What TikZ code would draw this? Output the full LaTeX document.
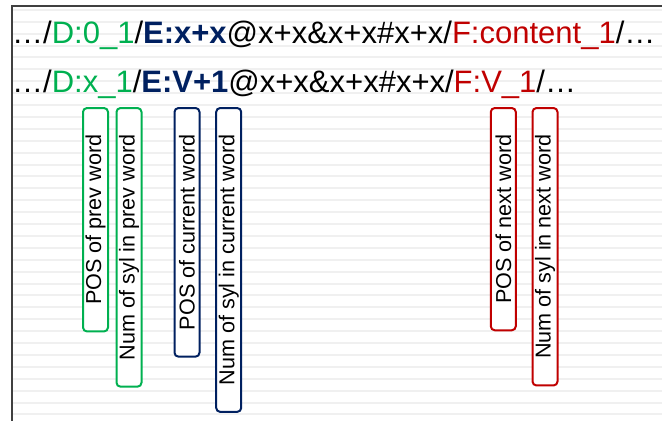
\documentclass[tikz,border=0pt]{standalone}
\usepackage{fontspec}
\setmainfont{Liberation Sans}
\usetikzlibrary{positioning}
\definecolor{prevc}{HTML}{00B050}
\definecolor{curc}{HTML}{002060}
\definecolor{nextc}{HTML}{C00000}

\begin{document}
\begin{tikzpicture}
	[
		x=1pt, y=-1pt,
		R/.style = {anchor=base west, inner sep=0pt, font=\fontsize{31}{37}\selectfont},
		B/.style = {rectangle, rotate=90, anchor=east, rounded corners=4pt, line width=2pt, fill=white,
			minimum height=25pt, inner xsep=26.5pt, inner ysep=0pt, font=\fontsize{21.6}{26}\selectfont},
		S/.style = {line width=2pt, black!6},
	]
	\useasboundingbox (0,0) rectangle (662,421);

	% stripes and frame
	\foreach \k in {0,...,34}
	\draw[S] (13,{9.8+11.9*\k}) -- (662,{9.8+11.9*\k});
	\draw[line width=1.6pt, black!75] (662,6) -- (12,6) -- (12,421);

	% label rows
	\node[R] (row1) at (12,43) {…/\textcolor{prevc}{D:0\_1}/\textbf{\textcolor{curc}{E:x+x}}@x+x\&x+x\#x+x/\textcolor{nextc}{F:content\_1}/…};
	\node[R] (row2) at (12,92) {…/\textcolor{prevc}{D:x\_1}/\textbf{\textcolor{curc}{E:V+1}}@x+x\&x+x\#x+x/\textcolor{nextc}{F:V\_1}/…};

	% prev word
	\node[B, draw=prevc] (p1) at (95.5,107) {POS of prev word};
	\node[B, draw=prevc] (p2) at (129,107) {Num of syl in prev word};

	% current word
	\node[B, draw=curc] (c1) at (187,107) {POS of current word};
	\node[B, draw=curc] (c2) at (228.7,107) {Num of syl in current word};

	% next word
	\node[B, draw=nextc] (n1) at (503.3,107) {POS of next word};
	\node[B, draw=nextc] (n2) at (545,107) {Num of syl in next word};

\end{tikzpicture}
\end{document}
